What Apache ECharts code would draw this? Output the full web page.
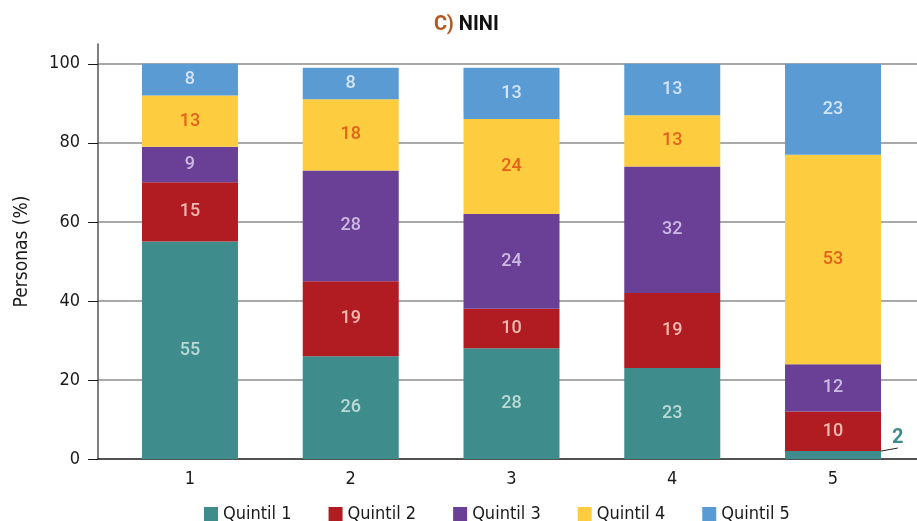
<!DOCTYPE html>
<html>
<head>
<meta charset="utf-8">
<script src="https://cdn.jsdelivr.net/npm/echarts@6/dist/echarts.min.js"></script>
<style>
  html, body { margin: 0; padding: 0; background: #ffffff; }
  #chart { width: 917px; height: 521px; }
</style>
</head>
<body>
<div id="chart"></div>
<script>
// Share of people (%) in each income quintil, by group
const categories = ['1', '2', '3', '4', '5'];
const seriesNames = ['Quintil 1', 'Quintil 2', 'Quintil 3', 'Quintil 4', 'Quintil 5'];
const quintil1 = [55, 26, 28, 23, 2];
const quintil2 = [15, 19, 10, 19, 10];
const quintil3 = [9, 28, 24, 32, 12];
const quintil4 = [13, 18, 24, 13, 53];
const quintil5 = [8, 8, 13, 13, 23];
const yTicks = [0, 20, 40, 60, 80, 100];

const fillColors = ['#3f8c8c', '#b01c21', '#6a3f96', '#fecd3f', '#5b9bd4'];
const labelColors = ['#b9d9d6', '#f2b9b0', '#cbb9e2', '#e2621c', '#d2e4f6'];

const narrow = "'Liberation Sans Narrow', 'DejaVu Sans Condensed', sans-serif";
const labelFont = "Roboto, 'Noto Sans', sans-serif";

const allValues = [quintil1, quintil2, quintil3, quintil4, quintil5];

const series = allValues.map((vals, si) => {
  const s = {
    name: seriesNames[si],
    type: 'bar',
    stack: 'total',
    xAxisIndex: 1,
    yAxisIndex: 1,
    barWidth: 96,
    itemStyle: { color: fillColors[si] },
    data: vals.slice(),
    label: {
      show: true,
      position: 'inside',
      color: labelColors[si],
      fontFamily: labelFont,
      fontWeight: 500,
      fontSize: 18
    }
  };
  if (si === 0) {
    // a thin segment carries its label outside, joined by a leader line
    s.data = vals.map(v => {
      if (v >= 5) return v;
      return {
        value: v,
        label: { position: 'right', color: '#3f8c8c', fontSize: 20, fontWeight: 'bold', distance: 11 },
        labelLine: { show: true, lineStyle: { color: '#222222', width: 1 } }
      };
    });
    s.labelLayout = p => (vals[p.dataIndex] < 5 ? { dy: -17 } : {});
    s.labelLine = { show: false };
  }
  return s;
});

const chart = echarts.init(document.getElementById('chart'), null, { renderer: 'canvas' });
chart.setOption({
  animation: false,
  backgroundColor: '#ffffff',
  title: {
    text: '{c|C)} {n|NINI}',
    left: 429,
    top: 10,
    textStyle: {
      rich: {
        c: { color: '#b5581e', fontFamily: labelFont, fontWeight: 'bold', fontSize: 20 },
        n: { color: '#111111', fontFamily: labelFont, fontWeight: 'bold', fontSize: 20 }
      }
    }
  },
  legend: {
    left: 199,
    top: 500,
    itemWidth: 14,
    itemHeight: 14,
    itemGap: 37,
    icon: 'rect',
    textStyle: { fontFamily: narrow, fontSize: 18, color: '#1a1a1a' },
    data: seriesNames
  },
  grid: [
    // background frame: gridlines and the base line across the full width
    { left: 98, right: 0, top: 44, bottom: 62, containLabel: false },
    // bars
    { left: 109.6, right: 3.6, top: 44, bottom: 62, containLabel: false }
  ],
  xAxis: [
    {
      gridIndex: 0,
      type: 'value',
      min: 0,
      max: 1,
      axisLine: { show: true, lineStyle: { color: '#1a1a1a', width: 1.5 } },
      axisTick: { show: false },
      axisLabel: { show: false },
      splitLine: { show: false }
    },
    {
      gridIndex: 1,
      type: 'category',
      data: categories,
      axisLine: { show: false },
      axisTick: { show: false },
      axisLabel: { margin: 11, fontFamily: narrow, fontSize: 18, color: '#1a1a1a' }
    }
  ],
  yAxis: [
    {
      gridIndex: 0,
      type: 'value',
      min: 0,
      max: 105,
      interval: 20,
      axisLine: { show: false },
      axisTick: { show: false },
      axisLabel: { show: false },
      splitLine: {
        show: true,
        showMinLine: false,
        showMaxLine: false,
        lineStyle: { color: '#8c8c8c', width: 1.5 }
      }
    },
    {
      gridIndex: 1,
      type: 'value',
      min: 0,
      max: 105,
      interval: 20,
      offset: 11.6,
      name: 'Personas (%)',
      nameLocation: 'middle',
      nameGap: 66,
      nameTextStyle: { fontFamily: narrow, fontSize: 19, color: '#1a1a1a' },
      axisLine: { show: true, lineStyle: { color: '#555555', width: 1.5 } },
      axisTick: { show: true, length: 10, customValues: yTicks, lineStyle: { color: '#1a1a1a', width: 1 } },
      axisLabel: { customValues: yTicks, margin: 18, fontFamily: narrow, fontSize: 18, color: '#1a1a1a' },
      splitLine: { show: false }
    }
  ],
  series: series
});
</script>
</body>
</html>
